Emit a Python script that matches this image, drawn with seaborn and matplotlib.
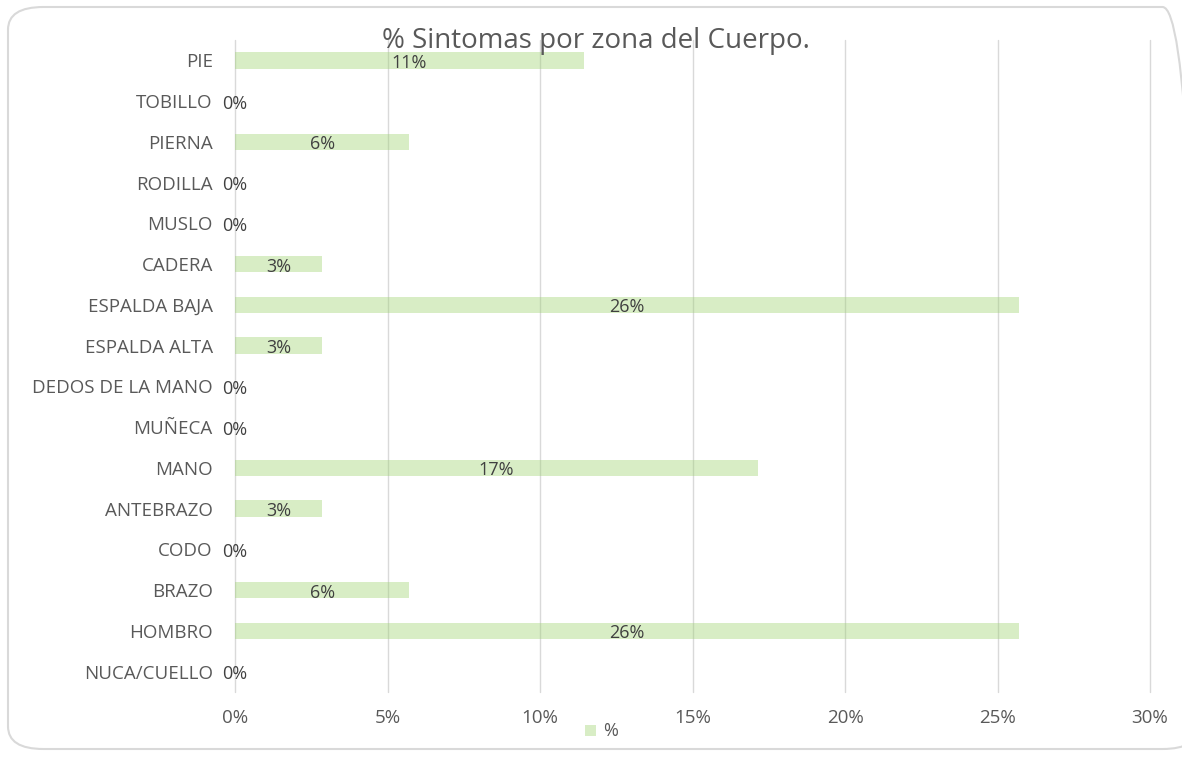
import numpy as np
import pandas as pd
import matplotlib
matplotlib.use("Agg")
import matplotlib.pyplot as plt
from matplotlib.patches import FancyBboxPatch
from matplotlib.ticker import PercentFormatter
import seaborn as sns

# Data (share of symptoms per body zone)
zonas = ["PIE", "TOBILLO", "PIERNA", "RODILLA", "MUSLO", "CADERA",
         "ESPALDA BAJA", "ESPALDA ALTA", "DEDOS DE LA MANO", "MUÑECA",
         "MANO", "ANTEBRAZO", "CODO", "BRAZO", "HOMBRO", "NUCA/CUELLO"]
porcentaje = [0.1143, 0.0, 0.0571, 0.0, 0.0, 0.0286,
              0.2571, 0.0286, 0.0, 0.0,
              0.1714, 0.0286, 0.0, 0.0571, 0.2571, 0.0]
x_ticks = [0, 0.05, 0.10, 0.15, 0.20, 0.25, 0.30]

df = pd.DataFrame({"zona": zonas, "pct": porcentaje})

sns.set_theme(style="white")
plt.rcParams['font.family'] = ['Open Sans', 'DejaVu Sans']
gray = "#595959"
bar_color = "#9fd370"

fig = plt.figure(figsize=(11.82, 7.57), dpi=100)
fig.patch.set_facecolor("white")

# rounded chart-area border
border = FancyBboxPatch((8 / 1182, 8 / 757), 1190 / 1182, 742 / 757,
                        boxstyle="round,pad=0,rounding_size=0.03",
                        transform=fig.transFigure, facecolor="none",
                        edgecolor="#d9d9d9", linewidth=1.5, zorder=0)
fig.patches.append(border)

ax = fig.add_axes([235 / 1182, 1 - 692 / 757, 915 / 1182, 652 / 757])
sns.barplot(data=df, x="pct", y="zona", orient="h", ax=ax,
            color=bar_color, alpha=0.4, width=0.4, saturation=1,
            edgecolor="none", zorder=2)

ax.set_xlim(0, 0.30)
ax.set_xticks(x_ticks)
ax.xaxis.set_major_formatter(PercentFormatter(1.0, decimals=0))
ax.grid(axis="x", color="#d9d9d9", linewidth=1, zorder=1)
for gl in ax.get_xgridlines():
    gl.set_clip_on(False)
ax.set_axisbelow(True)
for s in ax.spines.values():
    s.set_visible(False)
ax.set_xlabel("")
ax.set_ylabel("")
ax.tick_params(axis="x", colors=gray, labelsize=13.5, length=0, pad=12)
ax.tick_params(axis="y", colors=gray, labelsize=13.5, length=0, pad=16)

# data labels centred on each bar
for i, v in enumerate(porcentaje):
    ax.text(v / 2, i + 0.06, f"{v * 100:.0f}%", ha="center", va="center",
            fontsize=13, color="#404040", zorder=3)

fig.text(596 / 1182, 1 - 41 / 757, "% Sintomas por zona del Cuerpo.",
         ha="center", va="center", fontsize=20, color=gray)

# legend
fig.patches.append(plt.Rectangle((585 / 1182, 1 - 736 / 757), 11 / 1182, 11 / 757,
                                 transform=fig.transFigure, facecolor=bar_color,
                                 alpha=0.4, edgecolor="none"))
fig.text(603 / 1182, 1 - 731 / 757, "%", ha="left", va="center",
         fontsize=13, color=gray)

fig.savefig("out.png", dpi=100)
